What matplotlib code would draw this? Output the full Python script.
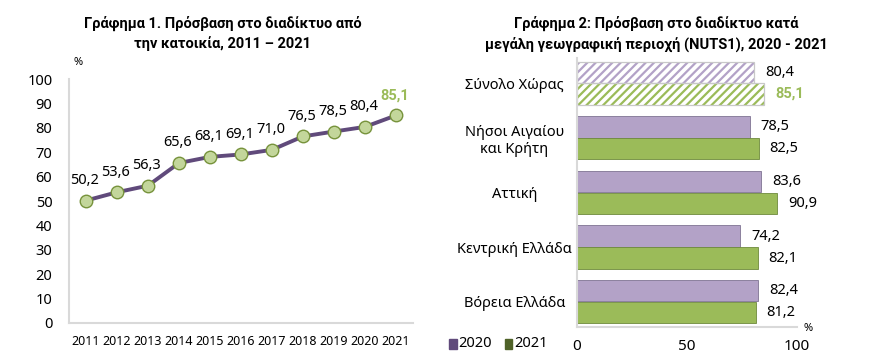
import numpy as np
import matplotlib.pyplot as plt

plt.rcParams['font.family'] = ['Noto Sans', 'DejaVu Sans']
plt.rcParams['hatch.linewidth'] = 1.6

# Γράφημα 1
years = ['2011', '2012', '2013', '2014', '2015', '2016', '2017', '2018', '2019', '2020', '2021']
access = [50.2, 53.6, 56.3, 65.6, 68.1, 69.1, 71.0, 76.5, 78.5, 80.4, 85.1]

# Γράφημα 2
regions = ['Σύνολο Χώρας', 'Νήσοι Αιγαίου\nκαι Κρήτη', 'Αττική', 'Κεντρική Ελλάδα', 'Βόρεια Ελλάδα']
v2020 = [80.4, 78.5, 83.6, 74.2, 82.4]
v2021 = [85.1, 82.5, 90.9, 82.1, 81.2]

purple_line = '#604A7B'
purple_bar = '#B3A2C7'
green_bar = '#9BBB59'
green_light = '#C3D69B'
grey = '#D9D9D9'
bold_font = ['Roboto', 'DejaVu Sans']


def fmt(v):
    return f'{v:.1f}'.replace('.', ',')


fig = plt.figure(figsize=(8.73, 3.58), dpi=100)

# ---- left: line chart ----
ax1 = fig.add_axes([0.079, 0.098, 0.394, 0.681])
x = np.arange(len(years))
ax1.plot(x, access, color=purple_line, lw=2.8, zorder=2)
ax1.plot(x, access, 'o', ms=9, mfc=green_light, mec='#77933C', mew=1.0, zorder=3)
for i, v in enumerate(access):
    if i == len(access) - 1:
        ax1.annotate(fmt(v), (i, v), xytext=(-1, 9), textcoords='offset points',
                     ha='center', va='bottom', fontsize=10.5, color=green_bar,
                     fontweight='bold', family=bold_font)
    else:
        ax1.annotate(fmt(v), (i, v), xytext=(-1, 9), textcoords='offset points',
                     ha='center', va='bottom', fontsize=10.5)
ax1.set_xlim(-0.55, len(years) - 0.45)
ax1.set_ylim(0, 100)
ax1.set_yticks(range(0, 101, 10))
ax1.set_xticks(x)
ax1.set_xticklabels(years, fontsize=9)
ax1.tick_params(axis='y', labelsize=10.5, length=0, pad=12)
ax1.tick_params(axis='x', length=0, pad=9)
for s in ['top', 'right']:
    ax1.spines[s].set_visible(False)
for s in ['left', 'bottom']:
    ax1.spines[s].set_color(grey)
    ax1.spines[s].set_linewidth(1.5)
fig.text(0.089, 0.826, '%', fontsize=8, ha='center', va='center')
fig.text(0.255, 0.955, 'Γράφημα 1. Πρόσβαση στο διαδίκτυο από\nτην κατοικία, 2011 – 2021',
         ha='center', va='top', fontsize=10.5, fontweight='bold', family=bold_font,
         linespacing=1.45)

# ---- right: horizontal bars ----
ax2 = fig.add_axes([0.661, 0.087, 0.252, 0.751])
y = np.arange(len(regions))[::-1]
h = 0.39
for i in range(len(regions)):
    if i == 0:
        ax2.barh(y[i] + 0.2, v2020[i], height=h, color='white', edgecolor=purple_bar,
                 hatch='////', lw=0)
        ax2.barh(y[i] - 0.2, v2021[i], height=h, color='white', edgecolor=green_bar,
                 hatch='////', lw=0)
        ax2.barh(y[i] + 0.2, v2020[i], height=h, fill=False, edgecolor='#C8C8C8', lw=0.9)
        ax2.barh(y[i] - 0.2, v2021[i], height=h, fill=False, edgecolor='#C8C8C8', lw=0.9)
    else:
        ax2.barh(y[i] + 0.2, v2020[i], height=h, color=purple_bar, edgecolor='#7F7393', lw=0.6)
        ax2.barh(y[i] - 0.2, v2021[i], height=h, color=green_bar, edgecolor='#6E8A3C', lw=0.6)
    ax2.text(v2020[i] + 5, y[i] + 0.2, fmt(v2020[i]), va='center', ha='left', fontsize=10.5)
    if i == 0:
        ax2.text(v2021[i] + 5, y[i] - 0.2, fmt(v2021[i]), va='center', ha='left',
                 fontsize=10.5, color=green_bar, fontweight='bold', family=bold_font)
    else:
        ax2.text(v2021[i] + 5, y[i] - 0.2, fmt(v2021[i]), va='center', ha='left', fontsize=10.5)
ax2.set_xlim(0, 100)
ax2.set_ylim(-0.46, 4.46)
ax2.set_yticks(y)
ax2.set_yticklabels(regions, fontsize=10.5, ha='center', multialignment='center')
ax2.tick_params(axis='y', length=0, pad=45)
ax2.set_xticks([0, 50, 100])
ax2.tick_params(axis='x', length=0, labelsize=11, pad=9)
for s in ['top', 'right']:
    ax2.spines[s].set_visible(False)
for s in ['left', 'bottom']:
    ax2.spines[s].set_color(grey)
    ax2.spines[s].set_linewidth(1.5)
fig.text(0.926, 0.083, '%', fontsize=8, ha='center', va='center')
fig.text(0.752, 0.955, 'Γράφημα 2: Πρόσβαση στο διαδίκτυο κατά\nμεγάλη γεωγραφική περιοχή (NUTS1), 2020 - 2021',
         ha='center', va='top', fontsize=10.5, fontweight='bold', family=bold_font,
         linespacing=1.45)

# legend
fig.patches.append(plt.Rectangle((0.514, 0.025), 0.009, 0.028, transform=fig.transFigure,
                                 color=purple_line))
fig.text(0.525, 0.040, '2020', fontsize=10.5, va='center')
fig.patches.append(plt.Rectangle((0.578, 0.025), 0.009, 0.028, transform=fig.transFigure,
                                 color='#4F6228'))
fig.text(0.589, 0.040, '2021', fontsize=10.5, va='center')

fig.savefig('out.png', dpi=100)
